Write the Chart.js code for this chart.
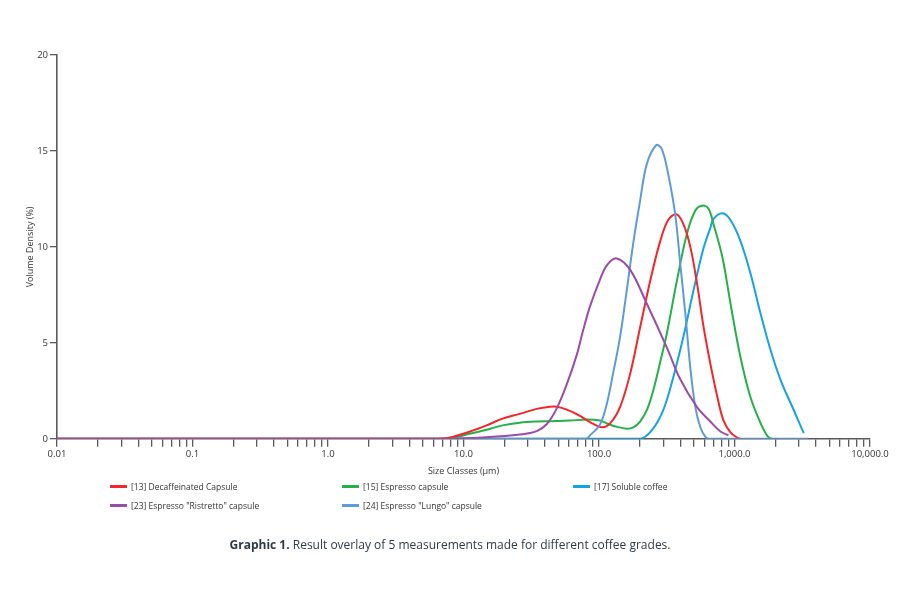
<!DOCTYPE html>
<html>
<head>
<meta charset="utf-8">
<script src="https://cdn.jsdelivr.net/npm/chart.js@4.4.0/dist/chart.umd.min.js"></script>
<style>
	body { margin: 0; background: #fff; }
	#wrap { position: relative; width: 900px; height: 600px; font-family: "Open Sans", sans-serif; }
	#wrap canvas { position: absolute; left: 0; top: 0; }
	#legend { position: absolute; left: 110px; top: 480px; width: 700px; font-size: 8.5px; color: #333; }
	.item { position: absolute; white-space: nowrap; line-height: 14px; }
	.item span.line { display: inline-block; width: 17px; height: 2.5px; vertical-align: middle; margin-right: 4px; position: relative; top: -1px; }
	#caption { position: absolute; left: 0; width: 900px; top: 536px; text-align: center; font-size: 12px; color: #2e3a46; }
</style>
</head>
<body>
<div id="wrap">
	<canvas id="grafico" width="900" height="600"></canvas>
	<div id="legend"></div>
	<div id="caption"><b>Graphic 1.</b> Result overlay of 5 measurements made for different coffee grades.</div>
</div>
<script>
// size classes (µm) and volume density (%)
const decafSizes = [0.01, 6.5, 8.3, 11.1, 14.8, 19.4, 26, 34.7, 43.4, 48.9, 57.9, 72.3, 85.8, 104.7, 120.6, 143, 170, 201, 239, 283, 324, 372, 419, 472, 529, 589, 664, 749, 829, 934, 1052, 1100];
const decafValues = [0, 0, 0.1, 0.37, 0.7, 1.05, 1.3, 1.56, 1.67, 1.67, 1.52, 1.2, 0.87, 0.6, 0.8, 1.65, 3.4, 5.8, 8.25, 10.3, 11.4, 11.7, 11.2, 10.0, 8.1, 5.9, 3.9, 2.15, 0.96, 0.34, 0.05, 0];

const espressoSizes = [0.01, 6.5, 8.3, 11.1, 14.8, 19.4, 26, 34.7, 45.6, 61, 81.5, 101.7, 114.6, 136, 161, 179, 201, 227, 251, 283, 317, 376, 446, 514, 577, 642, 699, 815, 934, 1107, 1314, 1560, 1755, 1900];
const espressoValues = [0, 0, 0.05, 0.26, 0.47, 0.7, 0.84, 0.9, 0.92, 0.95, 1.0, 0.95, 0.8, 0.62, 0.53, 0.6, 0.9, 1.55, 2.5, 4.0, 5.5, 8.25, 10.7, 11.9, 12.15, 12.0, 11.2, 9.45, 7.05, 4.25, 2.15, 0.8, 0.13, 0];

const solubleSizes = [0.01, 200, 245, 298, 353, 419, 497, 589, 664, 699, 815, 934, 1107, 1314, 1560, 1849, 2193, 2735, 3243];
const solubleValues = [0, 0, 0.44, 1.5, 3.2, 5.3, 7.7, 9.9, 11.0, 11.45, 11.75, 11.4, 10.3, 8.6, 6.5, 4.6, 3.05, 1.5, 0.3];

const ristrettoSizes = [0.01, 7, 14.8, 26, 34.7, 41.2, 48.9, 57.9, 68.7, 76, 85.8, 101.7, 114.6, 135, 170, 225, 317, 398, 529, 664, 788, 903];
const ristrettoValues = [0, 0, 0.08, 0.22, 0.4, 0.77, 1.6, 2.85, 4.4, 5.6, 6.9, 8.3, 9.05, 9.4, 8.8, 7.05, 4.75, 3.1, 1.65, 0.9, 0.38, 0.18];

const lungoSizes = [10, 80, 85.8, 101.7, 114, 127, 143, 160, 179, 201, 225, 264, 291, 324, 365, 398, 434, 472, 514, 560, 610, 650, 3500];
const lungoValues = [0, 0, 0.18, 0.75, 1.8, 3.4, 5.3, 7.7, 10.2, 12.4, 14.3, 15.3, 15.1, 13.8, 11.7, 9.1, 6.5, 3.7, 1.65, 0.6, 0.1, 0, 0];

const seriesNames = ['[13] Decaffeinated Capsule', '[15] Espresso capsule', '[17] Soluble coffee', '[23] Espresso "Ristretto" capsule', '[24] Espresso "Lungo" capsule'];
const seriesColors = ['#f2262b', '#26b04a', '#16a2e6', '#9b4ca9', '#5e9bd8'];

const decades = [0.01, 0.1, 1, 10, 100, 1000, 10000];
const decadeLabels = ['0.01', '0.1', '1.0', '10.0', '100.0', '1,000.0', '10,000.0'];
const mantissas = [1, 2, 3, 4, 5, 6, 7, 8, 9];
const yTicks = [0, 5, 10, 15, 20];

function puntos(sizes, values){
	return sizes.map((s, i) => ({x: s, y: values[i]}));
}

const allSizes = [decafSizes, espressoSizes, solubleSizes, ristrettoSizes, lungoSizes];
const allValues = [decafValues, espressoValues, solubleValues, ristrettoValues, lungoValues];
const drawOrder = [2, 3, 4, 0, 1];

let xTickValues = [];
decades.slice(0, -1).forEach(d => {
	mantissas.forEach(m => xTickValues.push(d * m));
});
xTickValues.push(decades[decades.length - 1]);

const datasets = seriesNames.map((name, i) => ({
	label: name,
	data: puntos(allSizes[i], allValues[i]),
	borderColor: seriesColors[i],
	backgroundColor: seriesColors[i],
	borderWidth: 2,
	pointRadius: 0,
	tension: 0.35,
	fill: false,
	order: drawOrder[i]
}));

const axisColor = '#5a5a5a';
const textColor = '#333';

const config = {
	type: 'line',
	data: { datasets: datasets },
	options: {
		responsive: false,
		animation: false,
		layout: { padding: { left: 25, top: 55, right: 30, bottom: 123 } },
		plugins: {
			legend: { display: false },
			tooltip: { enabled: false }
		},
		scales: {
			x: {
				type: 'logarithmic',
				min: 0.01,
				max: 10000,
				afterBuildTicks: (scale) => {
					scale.ticks = xTickValues.map(v => ({ value: v }));
				},
				ticks: {
					autoSkip: false,
					maxRotation: 0,
					padding: 2,
					color: textColor,
					font: { family: 'Open Sans', size: 9.5 },
					callback: function(value){
						const idx = decades.findIndex(d => Math.abs(Math.log10(d) - Math.log10(value)) < 1e-6);
						return idx >= 0 ? decadeLabels[idx] : '';
					}
				},
				grid: { drawOnChartArea: false, drawTicks: true, tickLength: 8, color: axisColor, lineWidth: 1.3 },
				border: { color: axisColor, width: 1.6 },
				title: {
					display: true,
					text: 'Size Classes (µm)',
					color: textColor,
					font: { family: 'Open Sans', size: 9 },
					padding: { top: 4, bottom: 0 }
				}
			},
			y: {
				min: 0,
				max: 20,
				afterBuildTicks: (scale) => {
					scale.ticks = yTicks.map(v => ({ value: v }));
				},
				ticks: {
					padding: 2,
					color: textColor,
					font: { family: 'Open Sans', size: 9.5 }
				},
				grid: { drawOnChartArea: false, drawTicks: true, tickLength: 7, color: axisColor, lineWidth: 1.3 },
				border: { color: axisColor, width: 1.6 },
				title: {
					display: true,
					text: 'Volume Density (%)',
					color: textColor,
					font: { family: 'Open Sans', size: 9 },
					padding: { top: 0, bottom: 4 }
				},
				afterFit: (scale) => { scale.width = 32; }
			}
		}
	}
};

const grafico = new Chart(document.getElementById('grafico'), config);

// legend laid out in three columns like the original
const legendPos = [[0, 0], [232, 0], [463, 0], [0, 19], [232, 19]];
let output = '';
seriesNames.forEach((name, i) => {
	output += '<div class="item" style="left:' + legendPos[i][0] + 'px;top:' + legendPos[i][1] + 'px">';
	output += '<span class="line" style="background:' + seriesColors[i] + '"></span>' + name.replace(/"/g, '&quot;') + '</div>';
});
document.getElementById('legend').innerHTML = output;
</script>
</body>
</html>
